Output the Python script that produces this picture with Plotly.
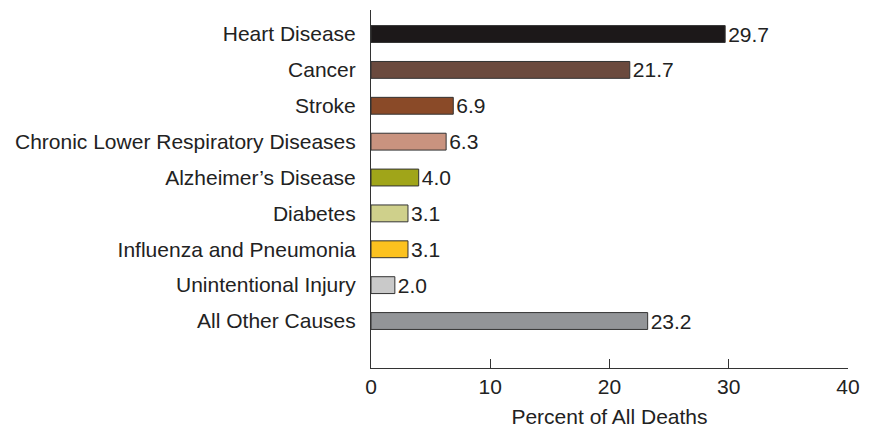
import plotly.graph_objects as go

categories = ["Heart Disease", "Cancer", "Stroke", "Chronic Lower Respiratory Diseases",
              "Alzheimer\u2019s Disease", "Diabetes", "Influenza and Pneumonia",
              "Unintentional Injury", "All Other Causes"]
values = [29.7, 21.7, 6.9, 6.3, 4.0, 3.1, 3.1, 2.0, 23.2]
value_labels = ["29.7", "21.7", "6.9", "6.3", "4.0", "3.1", "3.1", "2.0", "23.2"]
colors = ["#1c1819", "#6b4a3e", "#8a4a28", "#c9937f", "#a0a519", "#cfd08b",
          "#fcc21f", "#c9c9c9", "#939598"]
x_ticks = [0, 10, 20, 30, 40]

FONT = "Liberation Sans, Arial, sans-serif"
FS = 21

fig = go.Figure(go.Bar(
    x=values, y=categories, orientation="h",
    marker=dict(color=colors, line=dict(color="#333333", width=1)),
    width=0.47,
    text=value_labels, textposition="outside", cliponaxis=False,
    constraintext="none",
    textfont=dict(size=FS, color="#222222", family=FONT),
))

# page body has an 8px default margin, so the figure is sized to fit inside the window
fig.update_layout(
    width=866, height=420,
    margin=dict(l=363, r=26, t=2, b=60),
    plot_bgcolor="white", paper_bgcolor="white",
    font=dict(family=FONT, size=FS, color="#222222"),
    showlegend=False,
)
fig.update_xaxes(
    range=[0, 40], tickvals=x_ticks, showgrid=False, zeroline=False,
    showline=True, linecolor="#333333", linewidth=1,
    ticks="inside", ticklen=9, tickcolor="#333333",
    title=dict(text="Percent of All Deaths", font=dict(size=FS), standoff=28),
    tickfont=dict(size=FS), automargin=False,
)
fig.update_yaxes(
    categoryorder="array", categoryarray=categories,
    range=[9.31, -0.67], showgrid=False, zeroline=False,
    showline=True, linecolor="#333333", linewidth=1,
    ticks="", ticklabelstandoff=10, tickfont=dict(size=FS), automargin=False,
)

fig.write_html("out.html")
